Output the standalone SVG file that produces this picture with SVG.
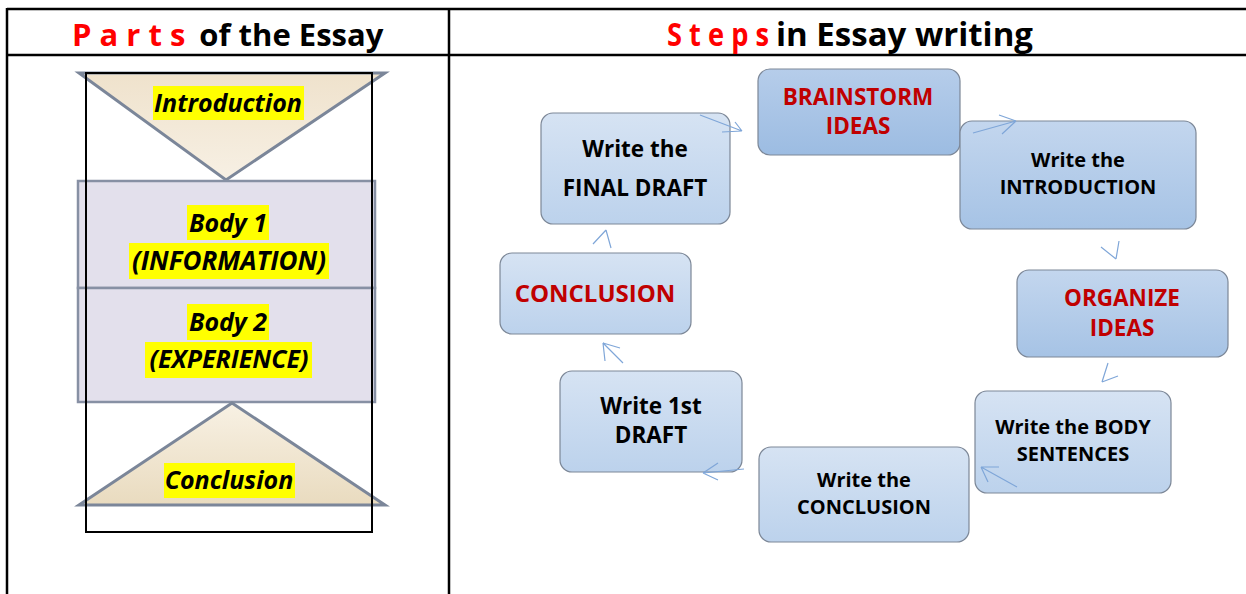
<svg xmlns="http://www.w3.org/2000/svg" width="1246" height="594" viewBox="0 0 1246 594">
<defs>
<linearGradient id="gLight" x1="0" y1="0" x2="0" y2="1"><stop offset="0" stop-color="#d6e3f3"/><stop offset="1" stop-color="#bcd2ec"/></linearGradient>
<linearGradient id="gMid" x1="0" y1="0" x2="0" y2="1"><stop offset="0" stop-color="#c3d6ee"/><stop offset="1" stop-color="#a6c3e5"/></linearGradient>
<linearGradient id="gDark" x1="0" y1="0" x2="0" y2="1"><stop offset="0" stop-color="#b6cdea"/><stop offset="1" stop-color="#9cbce2"/></linearGradient>
<linearGradient id="gTriDown" x1="0" y1="0" x2="0" y2="1"><stop offset="0" stop-color="#efe2cc"/><stop offset="1" stop-color="#f7f0e4"/></linearGradient>
<linearGradient id="gTriUp" x1="0" y1="0" x2="0" y2="1"><stop offset="0" stop-color="#f8f1e4"/><stop offset="1" stop-color="#e9dbbf"/></linearGradient>
</defs>
<style>
.tbl{stroke:#000;stroke-width:2.5;fill:none}
.hdr{font-family:"Open Sans","Liberation Sans",sans-serif;font-weight:bold;font-size:31px}
.red{fill:#ff0000}
.lbl{font-family:"Open Sans","Liberation Sans",sans-serif;font-weight:bold;font-style:italic;fill:#000;text-anchor:middle}
.hl{fill:#ffff00}
.box{stroke:#7c8797;stroke-width:1.2}
.nt{font-family:"Open Sans","Liberation Sans",sans-serif;font-weight:bold;fill:#000;text-anchor:middle}
.nr{fill:#c00000}
.arr{stroke:#7fa6d8;stroke-width:1.2;fill:none}
</style>

<!-- table -->
<g id="table">
<line class="tbl" x1="7" y1="9" x2="1246" y2="9"/>
<line class="tbl" x1="7" y1="55" x2="1246" y2="55"/>
<line class="tbl" x1="7" y1="8" x2="7" y2="594"/>
<line class="tbl" x1="449" y1="8" x2="449" y2="594"/>
</g>

<g id="header-left">
<text class="hdr" x="72" y="46"><tspan class="red">P a r t s</tspan><tspan dx="14">of the Essay</tspan></text>
</g>
<g id="header-right">
<text class="hdr red" x="667" y="46" style="font-size:32px" textLength="102" lengthAdjust="spacingAndGlyphs">S t e p s</text>
<text class="hdr" x="776" y="46" style="font-size:32px" textLength="257" lengthAdjust="spacingAndGlyphs">in Essay writing</text>
</g>

<!-- left panel -->
<g id="intro-triangle">
<polygon points="79,73 385,73 226,180" fill="url(#gTriDown)" stroke="#7b8699" stroke-width="3"/>
<rect class="hl" x="153" y="86" width="151" height="34"/>
<text class="lbl" x="228" y="112" style="font-size:25px">Introduction</text>
</g>
<g id="body1">
<rect x="78" y="181" width="297" height="107" fill="#e3e0ec" stroke="#8790a4" stroke-width="2.5"/>
<rect class="hl" x="187" y="205" width="82" height="35"/>
<rect class="hl" x="129" y="243" width="200" height="36"/>
<text class="lbl" x="228" y="232" style="font-size:25px">Body 1</text>
<text class="lbl" x="229" y="270" style="font-size:26px">(INFORMATION)</text>
</g>
<g id="body2">
<rect x="78" y="288" width="297" height="114" fill="#e3e0ec" stroke="#8790a4" stroke-width="2.5"/>
<rect class="hl" x="187" y="304" width="82" height="36"/>
<rect class="hl" x="145" y="342" width="167" height="36"/>
<text class="lbl" x="228" y="331" style="font-size:25px">Body 2</text>
<text class="lbl" x="229" y="368" style="font-size:25px">(EXPERIENCE)</text>
</g>
<g id="conclusion-triangle">
<polygon points="79,505 385,505 232,403" fill="url(#gTriUp)" stroke="#7b8699" stroke-width="3"/>
<rect class="hl" x="164" y="463" width="131" height="35"/>
<text class="lbl" x="229" y="489" style="font-size:25px">Conclusion</text>
</g>
<rect id="frame" x="86" y="73" width="286" height="459" fill="none" stroke="#000" stroke-width="2"/>

<!-- right panel nodes -->
<g id="n-brainstorm">
<rect class="box" x="758" y="69" width="202" height="86" rx="12" fill="url(#gDark)"/>
<text class="nt nr" x="858" y="105" style="font-size:22.5px">BRAINSTORM</text>
<text class="nt nr" x="858" y="134" style="font-size:22.5px">IDEAS</text>
</g>
<g id="n-intro">
<rect class="box" x="960" y="121" width="236" height="108" rx="12" fill="url(#gMid)"/>
<text class="nt" x="1078" y="167" style="font-size:20px">Write the</text>
<text class="nt" x="1078" y="194" style="font-size:20px">INTRODUCTION</text>
</g>
<g id="n-organize">
<rect class="box" x="1017" y="270" width="211" height="87" rx="12" fill="url(#gMid)"/>
<text class="nt nr" x="1122" y="306" style="font-size:22.5px">ORGANIZE</text>
<text class="nt nr" x="1122" y="336" style="font-size:22.5px">IDEAS</text>
</g>
<g id="n-body">
<rect class="box" x="975" y="391" width="196" height="102" rx="12" fill="url(#gLight)"/>
<text class="nt" x="1073" y="434" style="font-size:20px">Write the BODY</text>
<text class="nt" x="1073" y="461" style="font-size:20px">SENTENCES</text>
</g>
<g id="n-writeconclusion">
<rect class="box" x="759" y="447" width="210" height="95" rx="12" fill="url(#gLight)"/>
<text class="nt" x="864" y="487" style="font-size:20px">Write the</text>
<text class="nt" x="864" y="514" style="font-size:20px">CONCLUSION</text>
</g>
<g id="n-firstdraft">
<rect class="box" x="560" y="371" width="182" height="101" rx="12" fill="url(#gLight)"/>
<text class="nt" x="651" y="414" style="font-size:22.5px">Write 1st</text>
<text class="nt" x="651" y="443" style="font-size:22.5px">DRAFT</text>
</g>
<g id="n-conclusion">
<rect class="box" x="500" y="253" width="191" height="81" rx="12" fill="url(#gLight)"/>
<text class="nt nr" x="595" y="302" style="font-size:24px">CONCLUSION</text>
</g>
<g id="n-finaldraft">
<rect class="box" x="541" y="113" width="189" height="111" rx="12" fill="url(#gLight)"/>
<text class="nt" x="635" y="157" style="font-size:22.5px">Write the</text>
<text class="nt" x="635" y="196" style="font-size:22.5px">FINAL DRAFT</text>
</g>

<!-- connectors -->
<g id="connectors">
<path class="arr" d="M700,115 L742,131 M722,132 L742,131 M735,122 L742,131"/>
<path class="arr" d="M973,133 L1016,121 M999,115 L1016,121 M1002,134 L1016,121"/>
<path class="arr" d="M1119,241 L1116,259 M1101,247 L1116,259"/>
<path class="arr" d="M1108,363 L1102,382 M1102,382 L1118,376"/>
<path class="arr" d="M1017,487 L981,467 M999,467 L981,467 M988,482 L981,467"/>
<path class="arr" d="M744,469 L703,473 M718,463 L703,473 M718,480 L703,473"/>
<path class="arr" d="M623,363 L603,343 M620,348 L603,343 M605,361 L603,343"/>
<path class="arr" d="M611,248 L606,230 M593,244 L606,230"/>
</g>
</svg>
